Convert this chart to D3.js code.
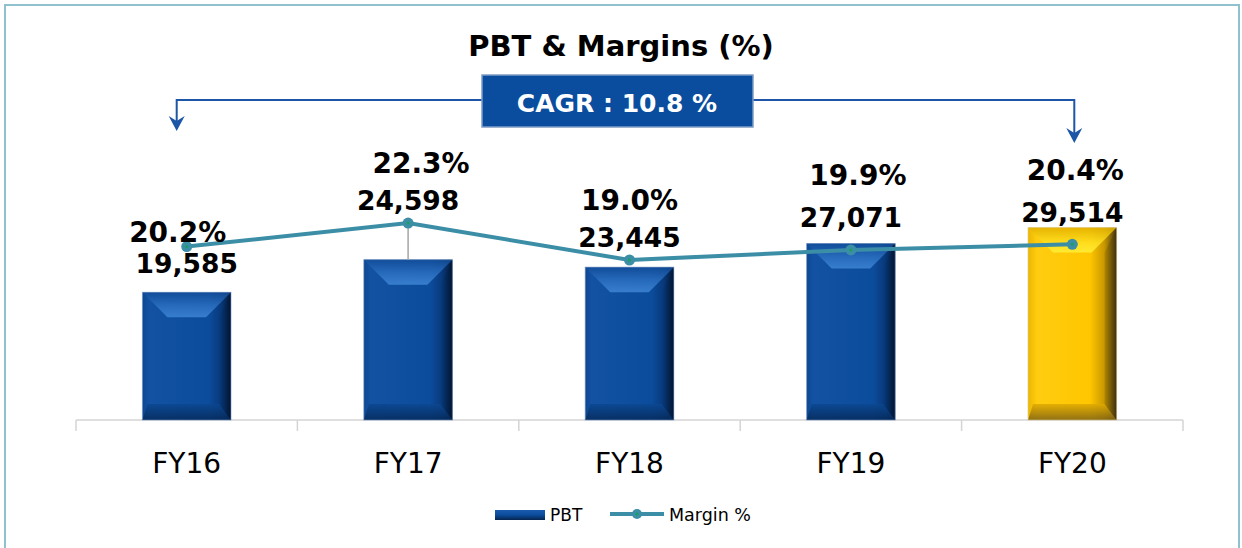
<!DOCTYPE html>
<html>
<head>
<meta charset="utf-8">
<script src="https://cdn.jsdelivr.net/npm/d3@7"></script>
<style>
  html, body { margin: 0; padding: 0; background: #fff; }
  svg { display: block; font-family: "DejaVu Sans", Verdana, sans-serif; }
</style>
</head>
<body>
<div id="chart"></div>
<script>
const width = 1242;
const height = 548;

// data
const years = ["FY16", "FY17", "FY18", "FY19", "FY20"];
const pbt = [19585, 24598, 23445, 27071, 29514];
const margin = [20.2, 22.3, 19.0, 19.9, 20.4];
const cagrText = "CAGR : 10.8 %";
const title = "PBT & Margins (%)";

// manual label nudges (px), like the hand-placed labels in the original
const pbtLabelDy = [-19, -50, -20, -17, -6];
const pctLabelDx = [-9, 13, 0, 7, 3];
const pctLabelDy = [-5, -50, -50, -65, -64];

const plotLeft = 76, plotRight = 1183, plotTop = 100, plotBottom = 420;

const x = d3.scaleBand()
	.domain(years)
	.range([plotLeft, plotRight])
	.paddingInner(0.6)
	.paddingOuter(0.3);

const y = d3.scaleLinear().domain([0, 49090]).range([plotBottom, plotTop]);
const y2 = d3.scaleLinear().domain([4.71, 33.29]).range([plotBottom, plotTop]);

const svg = d3.select("#chart").append("svg")
	.attr("width", width)
	.attr("height", height);

const defs = svg.append("defs");

function grad(id, x2, y2v, stops) {
	const g = defs.append("linearGradient").attr("id", id)
		.attr("x1", 0).attr("y1", 0).attr("x2", x2).attr("y2", y2v);
	stops.forEach(s => g.append("stop").attr("offset", s[0]).attr("stop-color", s[1]));
}

// blue bevel
grad("bBase", 1, 0, [[0, "#0c4790"], [0.07, "#1352a2"], [0.75, "#0c4c9c"], [0.88, "#083a7c"], [1, "#03193a"]]);
grad("bTop", 0, 1, [[0, "#114c98"], [0.55, "#2c70c2"], [1, "#3f86d6"]]);
grad("bBot", 0, 1, [[0, "#0b4790"], [1, "#062a5a"]]);
grad("bRight", 1, 0, [[0, "#083c80"], [1, "#021430"]]);
// gold bevel
grad("gBase", 1, 0, [[0, "#eab600"], [0.1, "#ffcc10"], [0.7, "#ffc600"], [0.86, "#c99800"], [1, "#4a3a12"]]);
grad("gTop", 0, 1, [[0, "#e2b000"], [0.6, "#ffe020"], [1, "#fff03a"]]);
grad("gBot", 0, 1, [[0, "#e0aa00"], [1, "#7e6216"]]);
grad("gRight", 1, 0, [[0, "#b08600"], [1, "#3e3010"]]);
grad("legBar", 0, 1, [[0, "#1a5cb0"], [0.5, "#0c4c9c"], [1, "#05244e"]]);

// frame
svg.append("rect")
	.attr("x", 5).attr("y", 5)
	.attr("width", 1234).attr("height", 560)
	.attr("fill", "none")
	.attr("stroke", "#8fc1cf")
	.attr("stroke-width", 2);

// title
svg.append("text")
	.attr("x", 621).attr("y", 56)
	.attr("text-anchor", "middle")
	.attr("font-size", 29)
	.attr("font-weight", "bold")
	.attr("fill", "#000")
	.text(title);

// CAGR bracket
const cx0 = x(years[0]) + x.bandwidth() / 2 - 10;
const cx1 = x(years[4]) + x.bandwidth() / 2 + 2;
const bracket = svg.append("g").attr("stroke", "#1d56a6").attr("stroke-width", 2).attr("fill", "none");
bracket.append("path").attr("d", `M${cx0},124 V100 H482`);
bracket.append("path").attr("d", `M753,100 H${cx1} V136`);
function arrowHead(ax, tip) {
	svg.append("path")
		.attr("d", `M${ax},${tip} L${ax - 8},${tip - 15} L${ax},${tip - 10} L${ax + 8},${tip - 15} Z`)
		.attr("fill", "#1d56a6");
}
arrowHead(cx0, 131);
arrowHead(cx1, 143);

svg.append("rect")
	.attr("x", 482).attr("y", 75)
	.attr("width", 271).attr("height", 52)
	.attr("fill", "#0a4d9f")
	.attr("stroke", "#7f9cc4")
	.attr("stroke-width", 1.5);
svg.append("text")
	.attr("x", 617).attr("y", 112)
	.attr("text-anchor", "middle")
	.attr("font-size", 25)
	.attr("font-weight", "bold")
	.attr("fill", "#fff")
	.text(cagrText);

// axis line and ticks between categories
const step = x.step();
const axis = svg.append("g").attr("stroke", "#d4d4d4").attr("stroke-width", 1.5);
axis.append("line")
	.attr("x1", plotLeft).attr("x2", plotRight)
	.attr("y1", plotBottom).attr("y2", plotBottom);
const tickXs = years.map(d => x(d) - step * x.paddingInner() / 2).concat([plotRight]);
axis.selectAll("line.tick")
	.data(tickXs)
	.enter().append("line")
	.attr("class", "tick")
	.attr("x1", d => d).attr("x2", d => d)
	.attr("y1", plotBottom).attr("y2", plotBottom + 11);

svg.append("g").selectAll("text")
	.data(years)
	.enter().append("text")
	.attr("x", d => x(d) + x.bandwidth() / 2)
	.attr("y", 473)
	.attr("text-anchor", "middle")
	.attr("font-size", 28)
	.attr("fill", "#000")
	.text(d => d);

// bars with bevel
svg.append("g").selectAll("g")
	.data(years)
	.enter().append("g")
	.each(function(d, i) {
		const g = d3.select(this);
		const gold = i === years.length - 1;
		const x0 = x(d), x1 = x(d) + x.bandwidth();
		const y0 = y(pbt[i]), y1 = y(0);
		const bt = 25, bb = 16, br = 12, bl = 5;
		g.append("rect")
			.attr("x", x0).attr("y", y0)
			.attr("width", x1 - x0).attr("height", y1 - y0)
			.attr("fill", gold ? "url(#gBase)" : "url(#bBase)");
		g.append("polygon")
			.attr("points", [[x0, y1], [x1, y1], [x1 - br, y1 - bb], [x0 + bl, y1 - bb]].join(" "))
			.attr("fill", gold ? "url(#gBot)" : "url(#bBot)")
			.attr("opacity", 0.85);
		g.append("polygon")
			.attr("points", [[x1, y0], [x1, y1], [x1 - br, y1 - bb], [x1 - br, y0 + bt]].join(" "))
			.attr("fill", gold ? "url(#gRight)" : "url(#bRight)");
		g.append("polygon")
			.attr("points", [[x0, y0], [x1, y0], [x1 - bt, y0 + bt], [x0 + bt, y0 + bt]].join(" "))
			.attr("fill", gold ? "url(#gTop)" : "url(#bTop)")
			.attr("opacity", 0.85);
		g.append("rect")
			.attr("x", x0).attr("y", y0)
			.attr("width", x1 - x0).attr("height", y1 - y0)
			.attr("fill", "none")
			.attr("stroke", gold ? "#d8c890" : "#6f8fbf")
			.attr("stroke-width", 1)
			.attr("stroke-opacity", 0.6);
	});

// leader line on FY17
svg.append("line")
	.attr("x1", x(years[1]) + x.bandwidth() / 2)
	.attr("x2", x(years[1]) + x.bandwidth() / 2)
	.attr("y1", y2(margin[1]))
	.attr("y2", y(pbt[1]))
	.attr("stroke", "#a6a6a6")
	.attr("stroke-width", 1.5);

// margin line
const line = d3.line()
	.x((d, i) => x(years[i]) + x.bandwidth() / 2)
	.y(d => y2(d));

svg.append("path")
	.datum(margin)
	.attr("d", line)
	.attr("fill", "none")
	.attr("stroke", "#3b8ea6")
	.attr("stroke-width", 4);

const dots = svg.append("g").selectAll("g")
	.data(margin)
	.enter().append("g")
	.attr("transform", (d, i) => `translate(${x(years[i]) + x.bandwidth() / 2},${y2(d)})`);
dots.append("circle").attr("r", 5.5).attr("fill", "#3b8ea6");
dots.append("circle").attr("r", 1.5).attr("fill", "#18a060");

// data labels
svg.append("g").selectAll("text")
	.data(pbt)
	.enter().append("text")
	.attr("x", (d, i) => x(years[i]) + x.bandwidth() / 2)
	.attr("y", (d, i) => y(d) + pbtLabelDy[i])
	.attr("text-anchor", "middle")
	.attr("font-size", 26.5)
	.attr("font-weight", "bold")
	.attr("fill", "#000")
	.text(d => d3.format(",")(d));

svg.append("g").selectAll("text")
	.data(margin)
	.enter().append("text")
	.attr("x", (d, i) => x(years[i]) + x.bandwidth() / 2 + pctLabelDx[i])
	.attr("y", (d, i) => y2(d) + pctLabelDy[i])
	.attr("text-anchor", "middle")
	.attr("font-size", 28)
	.attr("font-weight", "bold")
	.attr("fill", "#000")
	.text(d => d3.format(".1f")(d) + "%");

// legend
const leg = svg.append("g");
leg.append("rect")
	.attr("x", 495).attr("y", 510)
	.attr("width", 50).attr("height", 10)
	.attr("fill", "url(#legBar)");
leg.append("text")
	.attr("x", 550).attr("y", 521)
	.attr("font-size", 17)
	.attr("fill", "#000")
	.text("PBT");
leg.append("line")
	.attr("x1", 610).attr("x2", 664)
	.attr("y1", 514).attr("y2", 514)
	.attr("stroke", "#3b8ea6")
	.attr("stroke-width", 4);
leg.append("circle").attr("cx", 637).attr("cy", 514).attr("r", 5).attr("fill", "#3b8ea6");
leg.append("circle").attr("cx", 637).attr("cy", 514).attr("r", 1.5).attr("fill", "#18a060");
leg.append("text")
	.attr("x", 669).attr("y", 521)
	.attr("font-size", 17.5)
	.attr("fill", "#000")
	.text("Margin %");
</script>
</body>
</html>
